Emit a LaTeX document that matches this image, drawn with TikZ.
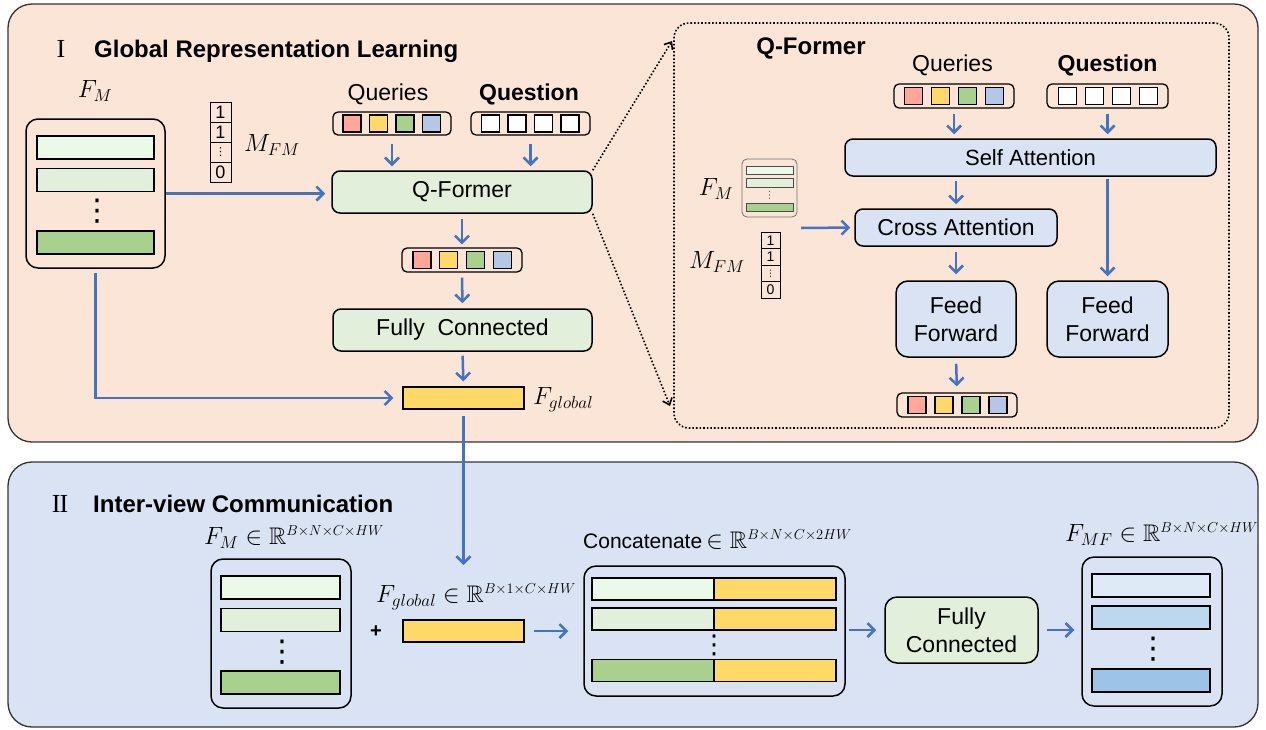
\documentclass[tikz,border=0pt]{standalone}
\usepackage{amssymb}
\usepackage{fontspec}
\setmainfont{Liberation Sans}
\newfontfamily\romanfont{Liberation Serif}
\newfontfamily\dejavu{DejaVu Sans}
\newcommand{\supx}[1]{\mbox{\fontsize{21.5}{24}\selectfont$\scriptstyle #1$}}
\usetikzlibrary{arrows.meta}
\definecolor{peach}{HTML}{FBE5D6}
\definecolor{panelblue}{HTML}{DAE3F3}
\definecolor{greenbox}{HTML}{E2EFDA}
\definecolor{bluebox}{HTML}{DAE3F3}
\definecolor{fmA}{HTML}{EBF9E8}
\definecolor{fmB}{HTML}{E2EFDA}
\definecolor{fmC}{HTML}{A9D18E}
\definecolor{mfA}{HTML}{DEEBF7}
\definecolor{mfB}{HTML}{BDD7EE}
\definecolor{mfC}{HTML}{9DC3E6}
\definecolor{tokred}{HTML}{FFA898}
\definecolor{tokyel}{HTML}{FFD966}
\definecolor{tokgrn}{HTML}{A9D18E}
\definecolor{tokblu}{HTML}{B4C7E7}
\definecolor{arrowblue}{HTML}{4472C4}
\begin{document}
\begin{tikzpicture}[x=1pt,y=-1pt,
  panel/.style={draw=black!80, line width=1.3pt, rounded corners=24pt, inner sep=0pt},
  gbox/.style={draw=black, line width=1.5pt, fill=greenbox, rounded corners=8pt, inner sep=0pt, font=\fontsize{23}{28}\selectfont, align=center},
  bbox/.style={draw=black, line width=1.5pt, fill=bluebox, rounded corners=8pt, inner sep=0pt, font=\fontsize{23}{28}\selectfont, align=center},
  holder/.style={draw=black, line width=1.5pt, rounded corners=12pt, inner sep=0pt},
  bar/.style={draw=black, line width=1.3pt, inner sep=0pt},
  tokbox/.style={draw=black, line width=1.3pt, rounded corners=5pt, minimum width=120pt, minimum height=24pt, inner sep=0pt},
  tok/.style={draw=black, line width=1.3pt, minimum width=18pt, minimum height=17pt, inner sep=0pt},
  cell/.style={draw=black, line width=1pt, minimum width=21pt, minimum height=20pt, inner sep=0pt, font=\fontsize{18}{20}\selectfont},
  scell/.style={draw=black, line width=0.9pt, minimum width=19pt, minimum height=16.5pt, inner sep=0pt, font=\fontsize{14}{16}\selectfont},
  arr/.style={draw=arrowblue, line width=2.5pt, -{Straight Barb[length=7pt,width=14pt]}},
  dotarr/.style={draw=black, line width=1.6pt, dotted, -{Straight Barb[length=6pt,width=10pt]}},
  lbl/.style={font=\fontsize{23}{28}\selectfont, inner sep=0pt},
  blbl/.style={font=\fontsize{23}{28}\selectfont\bfseries, inner sep=0pt},
  ttl/.style={font=\fontsize{24}{28}\selectfont\bfseries, inner sep=0pt},
  rnum/.style={font=\fontsize{26}{30}\selectfont\romanfont, inner sep=0pt},
  mlbl/.style={font=\fontsize{26}{30}\selectfont, inner sep=0pt},
  slbl/.style={font=\fontsize{24}{28}\selectfont, inner sep=0pt},
  vd/.style={font=\fontsize{30}{30}\selectfont\dejavu, inner sep=0pt},
]
\useasboundingbox (0,0) rectangle (1266,729);

% ---------- panels ----------
\node[panel, fill=peach, minimum width=1250pt, minimum height=438pt] (top) at (633,223) {};
\node[panel, fill=panelblue, minimum width=1250pt, minimum height=265pt] (bot) at (633,594.5) {};

% ---------- panel I ----------
\node[rnum, anchor=base] (t1num) at (61,57) {I};
\node[ttl, anchor=base west] (t1) at (94,57) {Global Representation Learning};

\node[mlbl] (fmlab) at (95,91) {$F_M$};
\node[holder, minimum width=139pt, minimum height=149pt] (fm) at (95.5,193.5) {};
\node[bar, fill=fmA, minimum width=117pt, minimum height=23pt] (fm1) at (95.5,147.5) {};
\node[bar, fill=fmB, minimum width=117pt, minimum height=23pt] (fm2) at (95.5,180) {};
\node[vd] (fmd) at (97,211) {⋮};
\node[bar, fill=fmC, minimum width=117pt, minimum height=23pt] (fm3) at (95.5,242.5) {};

\node[cell] (mc1) at (220.5,112) {1};
\node[cell] (mc2) at (220.5,132) {1};
\node[cell, font=\fontsize{11}{11}\selectfont\dejavu] (mc3) at (220.5,152) {⋮};
\node[cell] (mc4) at (220.5,172) {0};
\node[mlbl, font=\fontsize{25}{30}\selectfont] (mfmlab) at (272,145) {$M_{FM}$};

\node[lbl] (qlab) at (388,94) {Queries};
\node[tokbox, minimum width=118pt, minimum height=23pt] (qtb) at (392,123.5) {};
\foreach \c [count=\i] in {tokred,tokyel,tokgrn,tokblu}
  \node[tok, fill=\c] (qt\i) at ({352+(\i-1)*26.5},123.5) {};
\node[blbl] (qulab) at (529,94) {Question};
\node[tokbox, minimum width=119pt, minimum height=23pt] (qutb) at (530.5,123.5) {};
\foreach \i in {1,...,4}
  \node[tok, fill=white] (qu\i) at ({490.5+(\i-1)*26.5},123.5) {};

\node[gbox, minimum width=260pt, minimum height=42pt] (qf) at (462,192) {Q-Former};
\node[tokbox] (otb) at (462,260) {};
\foreach \c [count=\i] in {tokred,tokyel,tokgrn,tokblu}
  \node[tok, fill=\c] (ot\i) at ({422+(\i-1)*26.8},260) {};
\node[gbox, minimum width=259pt, minimum height=42pt] (fc) at (462.5,330) {Fully\ \ Connected};
\node[bar, fill=tokyel, minimum width=121pt, minimum height=22pt] (fgb) at (463.5,398) {};
\node[mlbl, font=\fontsize{27}{30}\selectfont, anchor=west] (fglab) at (533,400) {$F_{global}$};

\draw[arr, shorten <=8pt, shorten >=4pt] (qtb.south) -- (qtb.south |- qf.north);
\draw[arr, shorten <=8pt, shorten >=4pt] (qutb.south) -- (qutb.south |- qf.north);
\draw[arr, shorten >=6pt] (fm.east) -- (fm.east -| qf.west);
\draw[arr, shorten <=5pt, shorten >=3pt] (qf.south) -- (otb.north);
\draw[arr, shorten <=5pt, shorten >=5pt] (otb.south) -- (fc.north);
\draw[arr, shorten <=4pt, shorten >=5pt] (fc.south) -- (fgb.north);
\draw[arr, shorten <=4pt, shorten >=9pt] (fm.south) |- (fgb.west);

% ---------- Q-Former detail ----------
\node[draw=black, line width=1.6pt, dotted, rounded corners=15pt, minimum width=555pt, minimum height=405pt, inner sep=0pt] (qbig) at (951.5,225.5) {};
\coordinate (qbtop) at (672,41);
\coordinate (qbbot) at (670,406);
\draw[dotarr] (qf.north east) -- (qbtop);
\draw[dotarr] (qf.south east) -- (qbbot);

\node[ttl] (qbt) at (811,48) {Q-Former};
\node[lbl] (iqlab) at (952.5,65) {Queries};
\node[tokbox] (iqb) at (954,96) {};
\foreach \c [count=\i] in {tokred,tokyel,tokgrn,tokblu}
  \node[tok, fill=\c] (iq\i) at ({913.5+(\i-1)*27},96) {};
\node[blbl] (iqulab) at (1107.5,65) {Question};
\node[tokbox, minimum width=121pt] (iqub) at (1107.5,96) {};
\foreach \i in {1,...,4}
  \node[tok, fill=white] (iqu\i) at ({1067.5+(\i-1)*27},96) {};

\node[bbox, minimum width=371pt, minimum height=37pt, font=\fontsize{22}{26}\selectfont] (sa) at (1030.5,157.5) {Self Attention};
\node[bbox, minimum width=202pt, minimum height=37pt] (ca) at (956,227.5) {Cross Attention};
\node[bbox, rounded corners=12pt, minimum width=120pt, minimum height=76pt] (ff1) at (956,319) {Feed\\Forward};
\node[bbox, rounded corners=12pt, minimum width=121pt, minimum height=76pt] (ff2) at (1107.5,319) {Feed\\Forward};
\node[tokbox] (iout) at (957,405) {};
\foreach \c [count=\i] in {tokred,tokyel,tokgrn,tokblu}
  \node[tok, fill=\c] (io\i) at ({917+(\i-1)*27},405) {};

\node[draw=black!55, line width=0.8pt, rounded corners=5pt, fill=peach, minimum width=55pt, minimum height=58pt, inner sep=0pt] (sfm) at (769.5,188) {};
\node[draw=black!70, line width=0.7pt, fill=fmA, minimum width=47pt, minimum height=8pt, inner sep=0pt] (sfm1) at (769.5,170) {};
\node[draw=black!70, line width=0.7pt, fill=fmB, minimum width=47pt, minimum height=9pt, inner sep=0pt] (sfm2) at (769.5,182.5) {};
\node[font=\fontsize{10}{10}\selectfont\dejavu, inner sep=0pt, text=black!60] (sfmd) at (769.5,195) {⋮};
\node[draw=black!70, line width=0.7pt, fill=fmC, minimum width=47pt, minimum height=8pt, inner sep=0pt] (sfm3) at (769.5,207) {};
\node[mlbl] (sfmlab) at (716,189) {$F_M$};

\node[scell] (sm1) at (770.5,240.25) {1};
\node[scell] (sm2) at (770.5,256.75) {1};
\node[scell, font=\fontsize{9}{9}\selectfont\dejavu] (sm3) at (770.5,273.25) {⋮};
\node[scell] (sm4) at (770.5,289.75) {0};
\node[mlbl, font=\fontsize{25}{30}\selectfont] (smlab) at (717,262) {$M_{FM}$};

\coordinate (ssrc) at (801,228);
\draw[arr, shorten >=4pt] (ssrc) -- (ca.west);
\draw[arr, shorten <=5pt, shorten >=4pt] (iqb.south) -- (iqb.south |- sa.north);
\draw[arr, shorten <=5pt, shorten >=4pt] (iqub.south) -- (iqub.south |- sa.north);
\draw[arr, shorten <=4pt, shorten >=4pt] (ca.north |- sa.south) -- (ca.north);
\draw[arr, shorten <=2pt, shorten >=4pt] (ff2.north |- sa.south) -- (ff2.north);
\draw[arr, shorten <=5pt, shorten >=6pt] (ca.south) -- (ff1.north);
\draw[arr, shorten <=6pt, shorten >=6pt] (ff1.south) -- (iout.north);

% ---------- panel II ----------
\node[rnum, anchor=base] (t2num) at (60,512) {I\kern-1pt I};
\node[ttl, anchor=base west] (t2) at (93,512) {Inter-view Communication};

\node[slbl] (bfmlab) at (294,537) {$F_M\in\mathbb{R}^{\supx{B\times N\times C\times HW}}$};
\node[holder, minimum width=140pt, minimum height=149pt] (bfm) at (281,633.5) {};
\node[bar, fill=fmA, minimum width=119pt, minimum height=23pt] (bfm1) at (280.5,587.5) {};
\node[bar, fill=fmB, minimum width=119pt, minimum height=23pt] (bfm2) at (280.5,620) {};
\node[vd] (bfmd) at (282,652) {⋮};
\node[bar, fill=fmC, minimum width=119pt, minimum height=23pt] (bfm3) at (280.5,682.5) {};

\node[slbl] (bfglab) at (476,597) {$F_{global}\in\mathbb{R}^{\supx{B\times 1\times C\times HW}}$};
\node[font=\fontsize{20}{24}\selectfont\bfseries, inner sep=0pt] (plus) at (376,632) {+};
\node[bar, fill=tokyel, minimum width=121pt, minimum height=22pt] (bfg) at (463.5,631) {};
\coordinate (dropend) at (463.5,565);
\draw[arr, shorten <=6pt] (fgb.south) -- (dropend);

\node[font=\fontsize{21}{25}\selectfont, inner sep=0pt] (catlab) at (717.5,540) {Concatenate{\fontsize{24}{28}\selectfont$\,\in\mathbb{R}^{\supx{B\times N\times C\times 2HW}}$}};
\node[holder, minimum width=261pt, minimum height=130pt] (cat) at (714.5,631) {};
\foreach \c/\yy [count=\i] in {fmA/589,fmB/619,fmC/670.5} {
  \node[bar, fill=\c, minimum width=122pt, minimum height=22pt] (catl\i) at (653,\yy) {};
  \node[bar, fill=tokyel, minimum width=122pt, minimum height=22pt] (catr\i) at (775,\yy) {};
}
\node[vd, font=\fontsize{26}{26}\selectfont\dejavu] (catd) at (714,645) {⋮};

\node[gbox, rounded corners=12pt, minimum width=153pt, minimum height=66pt] (fc2) at (961.5,630) {Fully\\Connected};

\node[slbl] (fmflab) at (1161.5,534) {$F_{MF}\in\mathbb{R}^{\supx{B\times N\times C\times HW}}$};
\node[holder, minimum width=140pt, minimum height=149pt] (fmf) at (1152,631.5) {};
\node[bar, fill=mfA, minimum width=118pt, minimum height=23pt] (fmf1) at (1151,585.5) {};
\node[bar, fill=mfB, minimum width=118pt, minimum height=23pt] (fmf2) at (1151,617.5) {};
\node[vd] (fmfd) at (1153,649) {⋮};
\node[bar, fill=mfC, minimum width=118pt, minimum height=23pt] (fmf3) at (1151,680.5) {};

\draw[arr, shorten <=9pt, shorten >=15pt] (bfg.east) -- (bfg.east -| cat.west);
\draw[arr, shorten <=3pt, shorten >=8pt] (cat.east |- fc2.west) -- (fc2.west);
\draw[arr, shorten <=8pt, shorten >=7pt] (fc2.east) -- (fc2.east -| fmf.west);
\end{tikzpicture}
\end{document}
